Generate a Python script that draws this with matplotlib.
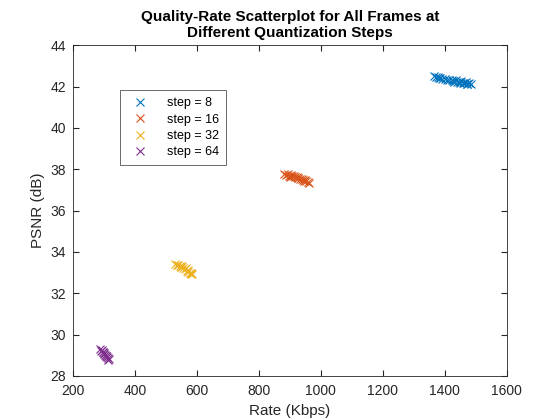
import matplotlib
matplotlib.use("Agg")
import matplotlib.pyplot as plt

# hand-read points per cluster
rate8 = [1365, 1372, 1378, 1385, 1392, 1400, 1408, 1415, 1422, 1428, 1435, 1440, 1446, 1452, 1458, 1463, 1468, 1473, 1478, 1484, 1380, 1430, 1450, 1470]
psnr8 = [42.50, 42.45, 42.48, 42.40, 42.38, 42.36, 42.33, 42.32, 42.30, 42.28, 42.30, 42.25, 42.22, 42.26, 42.20, 42.18, 42.22, 42.15, 42.17, 42.12, 42.40, 42.24, 42.18, 42.14]
rate16 = [882, 888, 893, 898, 903, 908, 913, 918, 923, 928, 933, 938, 943, 948, 953, 958, 963, 900, 925, 945]
psnr16 = [37.78, 37.74, 37.76, 37.70, 37.72, 37.68, 37.66, 37.62, 37.64, 37.58, 37.55, 37.52, 37.50, 37.46, 37.44, 37.40, 37.36, 37.65, 37.60, 37.42]
rate32 = [530, 535, 540, 545, 550, 553, 557, 561, 565, 569, 573, 577, 582, 586, 548, 570, 580]
psnr32 = [33.40, 33.35, 33.38, 33.30, 33.28, 33.32, 33.22, 33.18, 33.20, 33.10, 33.05, 33.00, 32.98, 32.95, 33.25, 33.12, 32.92]
rate64 = [288, 291, 294, 297, 300, 302, 305, 308, 311, 314, 317, 296, 306, 312]
psnr64 = [29.30, 29.22, 29.25, 29.15, 29.10, 29.05, 29.00, 28.95, 28.90, 28.85, 28.80, 29.18, 28.98, 28.75]

labels = ["step = 8", "step = 16", "step = 32", "step = 64"]
colors = ["#0072BD", "#D95319", "#EDB120", "#7E2F8E"]
rates = [rate8, rate16, rate32, rate64]
psnrs = [psnr8, psnr16, psnr32, psnr64]

plt.rcParams['font.family'] = ['Liberation Sans', 'DejaVu Sans']
fig = plt.figure(figsize=(5.6, 4.2), dpi=100)
ax = fig.add_axes([0.130, 0.105, 0.775, 0.787])
for r, p, c, l in zip(rates, psnrs, colors, labels):
    ax.plot(r, p, 'x', color=c, label=l, markersize=6, markeredgewidth=0.8)
ax.set_xlim(200, 1600)
ax.set_ylim(28, 44)
ax.set_xticks(range(200, 1601, 200))
ax.set_yticks(range(28, 45, 2))
ax.tick_params(direction='in', labelsize=10, colors='#262626', top=True, right=True, length=4)
ax.tick_params(axis='x', pad=6)
ax.tick_params(axis='y', pad=5)
for s in ax.spines.values():
    s.set_color('#262626')
    s.set_linewidth(0.6)
ax.set_xlabel('Rate (Kbps)', fontsize=11, color='#262626')
ax.set_ylabel('PSNR (dB)', fontsize=11, color='#262626')
ax.set_title('Quality-Rate Scatterplot for All Frames at\nDifferent Quantization Steps',
             fontsize=11, fontweight='bold', color='#000000')
leg = ax.legend(loc='upper left', bbox_to_anchor=(0.095, 0.883), fontsize=9, fancybox=False,
                edgecolor='#262626', handletextpad=1.2, borderpad=0.55, labelspacing=0.35)
leg.get_frame().set_linewidth(0.6)
fig.savefig("out.png", dpi=100)
